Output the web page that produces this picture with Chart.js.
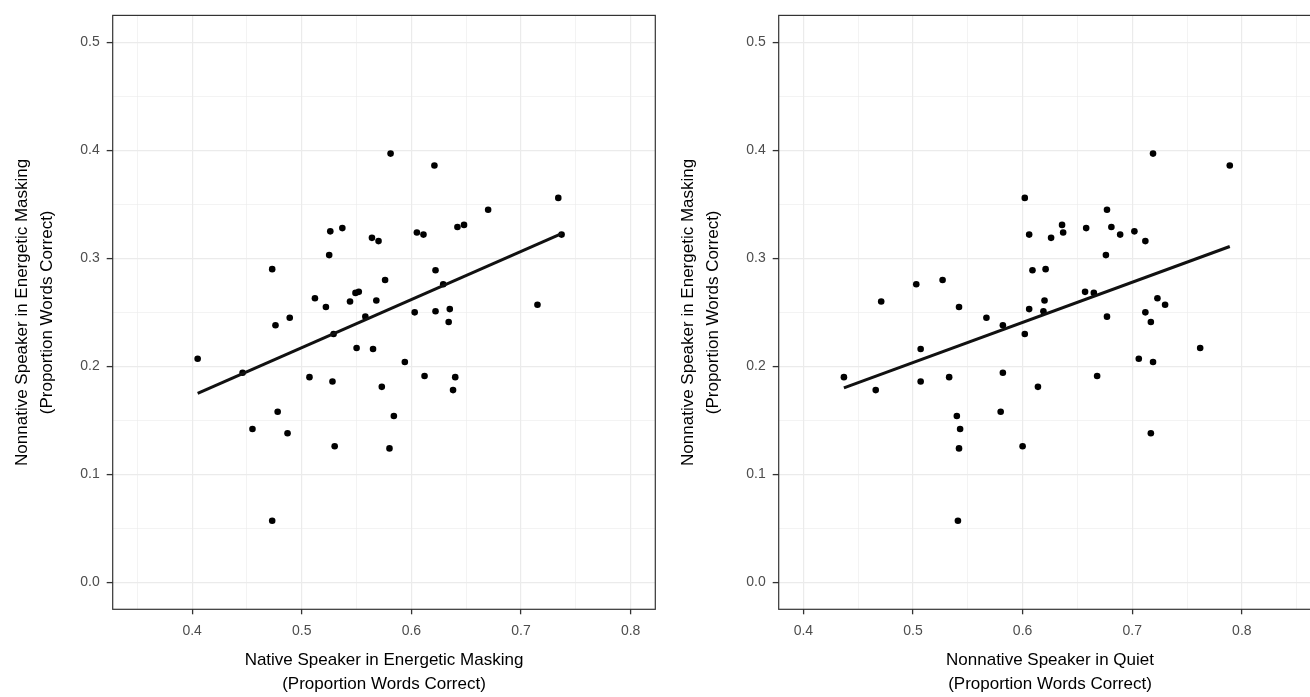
<!DOCTYPE html>
<html>
<head>
<meta charset="utf-8">
<title>Energetic masking scatter plots</title>
<script src="https://cdn.jsdelivr.net/npm/chart.js@4.4.1/dist/chart.umd.min.js"></script>
<style>
    html, body {
        margin: 0;
        padding: 0;
        width: 1310px;
        height: 697px;
        overflow: hidden;
        background: #ffffff;
    }

    canvas {
        position: absolute;
        top: 0;
    }

    #leftChart { left: 0; }
    #rightChart { left: 666px; }
</style>
</head>
<body>

<canvas id="leftChart" width="680" height="697"></canvas>
<canvas id="rightChart" width="680" height="697"></canvas>

<script>
/* =========================
   DATA (one entry per listener)
========================= */

// y in both panels: nonnative speaker in energetic masking
const nonnativeMasked = [
    0.397, 0.386, 0.356, 0.345, 0.331, 0.329, 0.328, 0.325, 0.324, 0.322,
    0.322, 0.319, 0.316, 0.303, 0.290, 0.289, 0.280, 0.276, 0.268, 0.269,
    0.263, 0.261, 0.260, 0.257, 0.255, 0.253, 0.251, 0.250, 0.246, 0.245,
    0.241, 0.238, 0.230, 0.217, 0.216, 0.207, 0.204, 0.194, 0.191, 0.190,
    0.190, 0.186, 0.181, 0.178, 0.158, 0.154, 0.142, 0.138, 0.126, 0.124,
    0.057
];

// x in left panel: native speaker in energetic masking
const nativeMasked = [
    0.581, 0.621, 0.734, 0.670, 0.648, 0.642, 0.537, 0.526, 0.605, 0.737,
    0.611, 0.564, 0.570, 0.525, 0.473, 0.622, 0.576, 0.629, 0.549, 0.552,
    0.512, 0.568, 0.544, 0.715, 0.522, 0.635, 0.622, 0.603, 0.558, 0.489,
    0.634, 0.476, 0.529, 0.550, 0.565, 0.405, 0.594, 0.446, 0.612, 0.640,
    0.507, 0.528, 0.573, 0.638, 0.478, 0.584, 0.455, 0.487, 0.530, 0.580,
    0.473
];

// x in right panel: nonnative speaker in quiet
const nonnativeQuiet = [
    0.719, 0.789, 0.602, 0.677, 0.636, 0.681, 0.658, 0.702, 0.637, 0.606,
    0.689, 0.626, 0.712, 0.676, 0.621, 0.609, 0.527, 0.503, 0.665, 0.657,
    0.723, 0.620, 0.471, 0.730, 0.542, 0.606, 0.619, 0.712, 0.677, 0.567,
    0.717, 0.582, 0.602, 0.762, 0.507, 0.706, 0.719, 0.582, 0.668, 0.533,
    0.437, 0.507, 0.614, 0.466, 0.580, 0.540, 0.543, 0.717, 0.600, 0.542,
    0.541
];

// fitted lines (end points)
const leftFitX = [0.405, 0.737];
const leftFitY = [0.175, 0.323];
const rightFitX = [0.437, 0.789];
const rightFitY = [0.180, 0.311];

// grid / tick positions
const xGridLeft = [0.35, 0.4, 0.45, 0.5, 0.55, 0.6, 0.65, 0.7, 0.75, 0.8];
const xGridRight = [0.4, 0.45, 0.5, 0.55, 0.6, 0.65, 0.7, 0.75, 0.8, 0.85];
const yGrid = [0, 0.05, 0.1, 0.15, 0.2, 0.25, 0.3, 0.35, 0.4, 0.45, 0.5];

const yTitle = ['Nonnative Speaker in Energetic Masking', '(Proportion Words Correct)'];
const leftXTitle = ['Native Speaker in Energetic Masking', '(Proportion Words Correct)'];
const rightXTitle = ['Nonnative Speaker in Quiet', '(Proportion Words Correct)'];

/* =========================
   HELPERS
========================= */

const FONT = '"Liberation Sans", Arial, Helvetica, sans-serif';

function isMajor(v) {
    return Math.abs(v * 10 - Math.round(v * 10)) < 1e-6;
}

function toPoints(xs, ys) {
    return xs.map((x, i) => ({ x, y: ys[i] }));
}

const panelBorder = {
    id: 'panelBorder',
    afterDraw(chart) {
        const { ctx, chartArea } = chart;
        ctx.save();
        ctx.strokeStyle = '#333333';
        ctx.lineWidth = 1.2;
        ctx.strokeRect(
            chartArea.left,
            chartArea.top,
            chartArea.right - chartArea.left,
            chartArea.bottom - chartArea.top
        );
        ctx.restore();
    }
};

function gridOptions(tickLength) {
    return {
        color: '#ebebeb',
        lineWidth: c => (c.tick && isMajor(c.tick.value) ? 1.2 : 0.6),
        tickColor: c => (c.tick && isMajor(c.tick.value) ? '#333333' : 'rgba(0,0,0,0)'),
        tickWidth: 1.3,
        tickLength,
        drawTicks: true
    };
}

function createPanel(canvasId, xs, fitX, fitY, xMin, xMax, xGrid, xTitle) {

    const ctx = document.getElementById(canvasId).getContext('2d');

    return new Chart(ctx, {

        type: 'scatter',

        data: {
            datasets: [
                {
                    type: 'line',
                    data: toPoints(fitX, fitY),
                    borderColor: '#111111',
                    borderWidth: 3,
                    pointRadius: 0,
                    fill: false,
                    tension: 0
                },
                {
                    data: toPoints(xs, nonnativeMasked),
                    backgroundColor: '#000000',
                    borderWidth: 0,
                    pointRadius: 3.3
                }
            ]
        },

        options: {

            responsive: false,
            devicePixelRatio: 1,
            animation: false,

            layout: {
                padding: { top: 13.6, right: 24.7, bottom: 0, left: 0 }
            },

            plugins: {
                legend: { display: false },
                tooltip: { enabled: false }
            },

            scales: {

                x: {
                    type: 'linear',
                    min: xMin,
                    max: xMax,
                    afterBuildTicks: s => {
                        s.ticks = xGrid.map(v => ({ value: v }));
                    },
                    afterFit: s => {
                        s.height = 87.7;
                    },
                    grid: gridOptions(5),
                    border: { display: false },
                    ticks: {
                        autoSkip: false,
                        maxRotation: 0,
                        padding: 8,
                        color: '#4d4d4d',
                        font: { family: FONT, size: 14 },
                        callback: v => (isMajor(v) ? v.toFixed(1) : '')
                    },
                    title: {
                        display: true,
                        text: xTitle,
                        color: '#000000',
                        font: { family: FONT, size: 17, lineHeight: 1.45 },
                        padding: { top: 0, bottom: 0 }
                    }
                },

                y: {
                    type: 'linear',
                    min: -0.025,
                    max: 0.525,
                    afterBuildTicks: s => {
                        s.ticks = yGrid.map(v => ({ value: v }));
                    },
                    afterFit: s => {
                        s.width = 112.7;
                    },
                    grid: gridOptions(6),
                    border: { display: false },
                    ticks: {
                        autoSkip: false,
                        padding: 7,
                        color: '#4d4d4d',
                        font: { family: FONT, size: 14 },
                        callback: v => (isMajor(v) ? v.toFixed(1) : '')
                    },
                    title: {
                        display: true,
                        text: yTitle,
                        color: '#000000',
                        font: { family: FONT, size: 17, lineHeight: 1.45 },
                        padding: { top: 10, bottom: 0 }
                    }
                }
            }
        },

        plugins: [panelBorder]
    });
}

/* =========================
   DRAW BOTH PANELS
========================= */

createPanel('leftChart', nativeMasked, leftFitX, leftFitY, 0.3275, 0.8225, xGridLeft, leftXTitle);
createPanel('rightChart', nonnativeQuiet, rightFitX, rightFitY, 0.3775, 0.8725, xGridRight, rightXTitle);
</script>
</body>
</html>
